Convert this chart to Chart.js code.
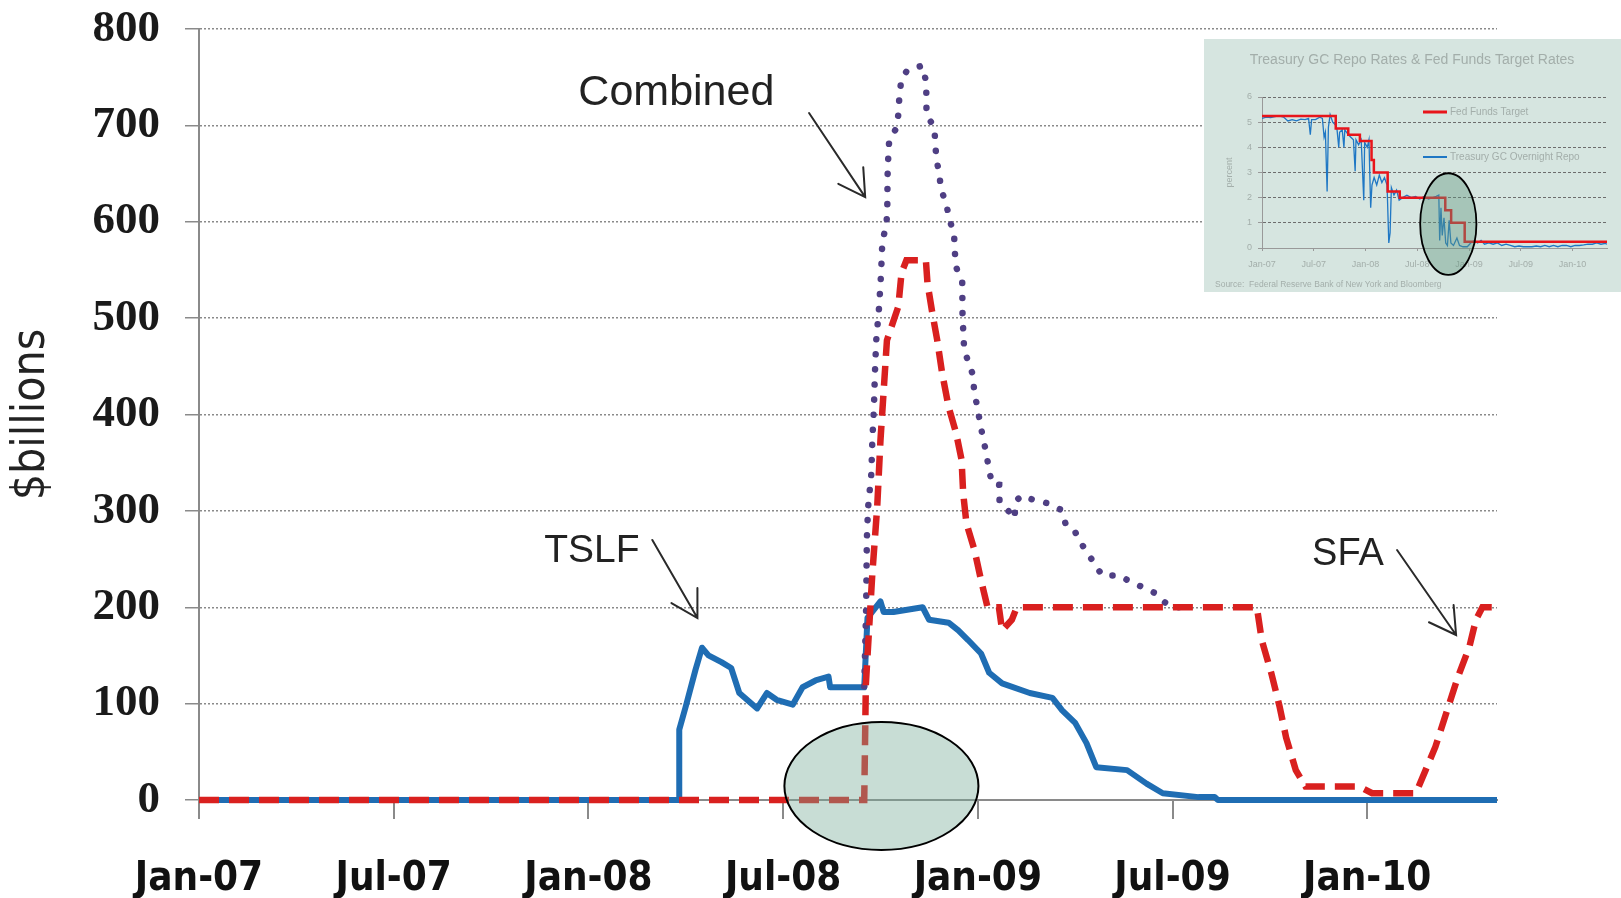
<!DOCTYPE html>
<html><head><meta charset="utf-8">
<script src="https://cdn.jsdelivr.net/npm/chart.js@4.4.0/dist/chart.umd.min.js"></script>
<style>
html,body{margin:0;padding:0;background:#fff;}
#wrap{position:relative;width:1621px;height:898px;overflow:hidden;}
#main{position:absolute;left:0;top:0;}
#inset{position:absolute;left:1204px;top:39px;width:417px;height:253px;background:#d6e5e0;}
#insetCanvas{position:absolute;left:0;top:0;}
</style></head><body>
<div id="wrap">
<canvas id="main" width="1621" height="898"></canvas>
<div id="inset"><canvas id="insetCanvas" width="417" height="253"></canvas></div>
</div>
<script>
// ---------- main chart data (x = months since Jan-2007) ----------
const xTickMonths = [0, 6, 12, 18, 24, 30, 36];
const xTickLabels = ['Jan-07', 'Jul-07', 'Jan-08', 'Jul-08', 'Jan-09', 'Jul-09', 'Jan-10'];
const yTickValues = [0, 100, 200, 300, 400, 500, 600, 700, 800];

const tslfMonths = [0, 14.8, 14.8, 15.0, 15.3, 15.5, 15.7, 16.1, 16.4, 16.65, 17.2, 17.5, 17.8, 18.3, 18.6, 19.0, 19.4, 19.45, 20.5, 20.6, 21.0, 21.1, 21.4, 22.3, 22.5, 23.1, 23.4, 23.7, 24.1, 24.35, 24.75, 25.6, 26.3, 26.6, 27.0, 27.35, 27.65, 28.6, 29.2, 29.7, 30.8, 31.3, 31.4, 40];
const tslfValues = [0, 0, 73, 97, 135, 158, 150, 143, 137, 111, 95, 111, 104, 99, 117, 124, 128, 117, 117, 189, 206, 195, 195, 200, 187, 184, 176, 166, 152, 132, 121, 111, 106, 93, 80, 59, 34, 31, 17, 7, 3, 3, 0, 0];

const sfaMonths = [0, 20.5, 20.55, 20.75, 20.9, 21.0, 21.1, 21.2, 21.55, 21.65, 21.8, 22.4, 22.45, 22.6, 22.75, 22.9, 23.1, 23.33, 23.5, 23.55, 23.65, 23.9, 24.1, 24.3, 24.65, 24.75, 25.05, 25.2, 32.6, 32.75, 33.05, 33.3, 33.5, 33.8, 34.1, 35.75, 36.15, 37.5, 37.8, 38.1, 38.5, 38.8, 39.15, 39.35, 39.55, 40];
const sfaValues = [0, 0, 120, 235, 304, 373, 425, 477, 512, 547, 560, 560, 536, 505, 477, 443, 408, 381, 353, 318, 287, 259, 228, 200, 200, 176, 187, 200, 200, 166, 131, 97, 65, 31, 14, 14, 7, 7, 31, 55, 97, 128, 159, 187, 200, 200];

const combinedMonths = [20.5, 20.56, 20.58, 20.62, 20.72, 20.75, 20.8, 20.83, 20.87, 20.96, 21.02, 21.06, 21.18, 21.21, 21.22, 21.24, 21.27, 21.49, 21.55, 21.58, 21.64, 21.82, 22.29, 22.41, 22.42, 22.66, 22.72, 22.81, 22.87, 23.03, 23.12, 23.27, 23.28, 23.33, 23.52, 23.53, 23.58, 23.83, 23.89, 23.98, 24.13, 24.26, 24.35, 24.44, 24.66, 24.67, 24.97, 25.12, 25.19, 25.37, 25.74, 26.14, 26.57, 26.72, 26.97, 27.19, 27.43, 27.65, 27.84, 28.36, 28.73, 29.07, 29.44, 29.68, 29.99, 30.3];
const combinedValues = [118, 200, 270, 304, 339, 373, 408, 443, 477, 512, 547, 581, 595, 612, 648, 666, 685, 697, 711, 728, 747, 757, 762, 745, 711, 698, 666, 650, 633, 619, 602, 589, 574, 553, 538, 502, 467, 443, 425, 408, 381, 360, 342, 328, 327, 309, 299, 292, 311, 316, 311, 308, 301, 285, 280, 266, 254, 242, 233, 233, 226, 221, 215, 207, 200, 200];

// annotations (anchored in data units)
const noteTexts = ['Combined', 'TSLF', 'SFA'];
const noteSizes = [43, 39, 38];
const noteX = [11.69, 10.64, 34.3];
const noteY = [721.5, 247, 244];
const arrowFromX = [18.80, 13.97, 36.92];
const arrowFromY = [712.8, 269.8, 259.4];
const arrowToX = [20.53, 15.36, 38.74];
const arrowToY = [625.6, 188.8, 171.2];
const ellipseCenter = [21.03, 14.5];
const ellipseRadii = [2.99, 66.4];

// ---------- inset chart data ----------
const insetTitle = 'Treasury GC Repo Rates & Fed Funds Target Rates';
const insetSource = 'Source:  Federal Reserve Bank of New York and Bloomberg';
const insetYTicks = [0, 1, 2, 3, 4, 5, 6];
const fedMonths = [0, 8.55, 8.55, 10.0, 10.0, 11.35, 11.35, 12.7, 12.7, 12.97, 12.97, 14.57, 14.57, 15.97, 15.97, 21.25, 21.25, 21.93, 21.93, 23.5, 23.5, 40];
const fedValues = [5.25, 5.25, 4.75, 4.75, 4.5, 4.5, 4.25, 4.25, 3.5, 3.5, 3.0, 3.0, 2.25, 2.25, 2.0, 2.0, 1.5, 1.5, 1.0, 1.0, 0.25, 0.25];
const repoMonths = [0, 0.5, 1, 1.5, 2, 2.5, 3, 3.5, 4, 4.5, 5, 5.4, 5.6, 5.75, 6.2, 6.7, 7.0, 7.2, 7.35, 7.55, 7.7, 7.9, 8.2, 8.5, 8.7, 8.9, 9.0, 9.3, 9.5, 9.6, 10.0, 10.3, 10.6, 10.8, 10.9, 11.2, 11.5, 11.8, 11.9, 12.2, 12.4, 12.6, 12.75, 13.0, 13.3, 13.6, 13.9, 14.2, 14.5, 14.7, 14.85, 15.0, 15.3, 15.6, 15.9, 16.3, 16.8, 17.3, 17.8, 18.3, 18.8, 19.3, 19.8, 20.2, 20.5, 20.6, 20.75, 20.9, 21.1, 21.3, 21.5, 21.7, 21.9, 22.2, 22.6, 22.9, 23.3, 23.8, 24.2, 24.6, 25.0, 25.4, 25.8, 26.3, 26.8, 27.3, 27.8, 28.3, 28.8, 29.3, 29.8, 30.3, 30.8, 31.3, 31.8, 32.3, 32.8, 33.3, 33.8, 34.3, 34.8, 35.3, 35.8, 36.3, 36.8, 37.3, 37.8, 38.3, 38.8, 39.3, 39.8, 40];
const repoValues = [5.15, 5.2, 5.18, 5.22, 5.25, 5.2, 5.05, 5.1, 5.05, 5.12, 5.1, 5.15, 4.5, 5.1, 5.1, 5.2, 5.15, 4.4, 4.6, 2.25, 4.8, 5.3, 5.0, 4.9, 4.7, 4.0, 4.6, 4.7, 4.0, 4.7, 4.5, 4.4, 4.3, 3.05, 4.3, 4.1, 4.3, 1.9, 4.2, 4.0, 4.3, 1.6, 2.5, 2.8, 2.5, 2.9, 2.6, 2.8, 2.5, 0.2, 0.6, 2.4, 2.1, 2.3, 1.9, 2.0, 2.1, 2.0, 2.05, 1.95, 2.05, 1.95, 2.0, 2.05, 2.1, 0.3, 1.6, 0.5, 1.2, 0.2, 0.1, 1.1, 0.2, 0.1, 0.4, 0.1, 0.05, 0.05, 0.2, 0.3, 0.2, 0.3, 0.15, 0.2, 0.15, 0.2, 0.1, 0.15, 0.1, 0.05, 0.08, 0.05, 0.05, 0.05, 0.08, 0.05, 0.1, 0.05, 0.1, 0.05, 0.1, 0.1, 0.05, 0.1, 0.1, 0.12, 0.15, 0.15, 0.2, 0.15, 0.18, 0.15];
const insetLegend = ['Fed Funds Target', 'Treasury GC Overnight Repo'];
const insetEllipseCenter = [21.6, 0.95];
const insetEllipseRadii = [3.26, 2.02];

const pts = (xs, ys) => xs.map((x, i) => ({x: x, y: ys[i]}));

// ---------- main chart ----------
const annoPlugin = {
  id: 'anno',
  afterDatasetsDraw(chart) {
    const {ctx, scales: {x, y}} = chart;
    ctx.save();
    const cx = x.getPixelForValue(ellipseCenter[0]);
    const cy = y.getPixelForValue(ellipseCenter[1]);
    const rx = x.getPixelForValue(ellipseCenter[0] + ellipseRadii[0]) - cx;
    const ry = cy - y.getPixelForValue(ellipseCenter[1] + ellipseRadii[1]);
    ctx.beginPath();
    ctx.ellipse(cx, cy, rx, ry, 0, 0, Math.PI * 2);
    ctx.fillStyle = 'rgba(117,170,150,0.40)';
    ctx.fill();
    ctx.lineWidth = 2;
    ctx.strokeStyle = '#000';
    ctx.stroke();
    ctx.fillStyle = '#222';
    ctx.textBaseline = 'alphabetic';
    ctx.textAlign = 'left';
    noteTexts.forEach((t, i) => {
      ctx.font = noteSizes[i] + 'px "Liberation Sans", Arial, sans-serif';
      ctx.fillText(t, x.getPixelForValue(noteX[i]), y.getPixelForValue(noteY[i]));
    });
    ctx.strokeStyle = '#2a2a2a';
    ctx.lineWidth = 2;
    ctx.lineCap = 'round';
    for (let i = 0; i < arrowFromX.length; i++) {
      const x1 = x.getPixelForValue(arrowFromX[i]), y1 = y.getPixelForValue(arrowFromY[i]);
      const x2 = x.getPixelForValue(arrowToX[i]), y2 = y.getPixelForValue(arrowToY[i]);
      const a = Math.atan2(y1 - y2, x1 - x2);
      const L = 30, w = Math.PI / 6;
      ctx.beginPath();
      ctx.moveTo(x1, y1); ctx.lineTo(x2, y2);
      ctx.moveTo(x2 + L * Math.cos(a - w), y2 + L * Math.sin(a - w));
      ctx.lineTo(x2, y2);
      ctx.lineTo(x2 + L * Math.cos(a + w), y2 + L * Math.sin(a + w));
      ctx.stroke();
    }
    ctx.restore();
  }
};

new Chart(document.getElementById('main'), {
  type: 'line',
  data: {
    datasets: [
      {label: 'SFA', data: pts(sfaMonths, sfaValues), borderColor: '#d9201f', borderWidth: 6.5, borderDash: [20, 10], borderCapStyle: 'butt', pointRadius: 0, tension: 0, fill: false, clip: false},
      {label: 'Combined', data: pts(combinedMonths, combinedValues), borderColor: '#4f3f84', borderWidth: 6.5, borderDash: [0.1, 15], borderCapStyle: 'round', pointRadius: 0, tension: 0, fill: false, clip: false},
      {label: 'TSLF', data: pts(tslfMonths, tslfValues), borderColor: '#1f6db3', borderWidth: 6, borderJoinStyle: 'round', pointRadius: 0, tension: 0, fill: false, clip: false}
    ]
  },
  options: {
    responsive: false,
    animation: false,
    events: [],
    layout: {padding: {left: 0, top: 29, right: 124, bottom: 0}},
    plugins: {legend: {display: false}, tooltip: {enabled: false}},
    scales: {
      x: {
        type: 'linear', min: 0, max: 40,
        afterBuildTicks: s => { s.ticks = xTickMonths.map(v => ({value: v})); },
        afterFit: s => { s.height = 98; s.paddingLeft = 0; s.paddingRight = 0; },
        ticks: {
          autoSkip: false, maxRotation: 0,
          callback: v => xTickLabels[xTickMonths.indexOf(v)],
          font: {family: '"Liberation Sans Narrow", "DejaVu Sans Condensed", "Liberation Sans", sans-serif', size: 40, weight: 'bold'},
          color: '#111', padding: 37
        },
        grid: {drawOnChartArea: false, drawTicks: true, tickLength: 19, color: '#8a8a8a', lineWidth: 2},
        border: {display: true, color: '#8a8a8a', width: 2}
      },
      y: {
        min: 0, max: 800,
        afterBuildTicks: s => { s.ticks = yTickValues.map(v => ({value: v})); },
        afterFit: s => { s.width = 199; s.paddingTop = 0; s.paddingBottom = 0; },
        ticks: {
          callback: v => String(v),
          font: {family: '"Liberation Serif", "DejaVu Serif", serif', size: 45, weight: 'bold'},
          color: '#1a1a1a', padding: 25
        },
        grid: {drawOnChartArea: true, drawTicks: true, tickLength: 14, color: '#8a8a8a', lineWidth: 1.5, tickBorderDash: [], tickWidth: 1.5, tickColor: '#8a8a8a'},
        border: {display: true, color: '#8a8a8a', width: 2, dash: [2, 2]},
        title: {
          display: true, text: '$billions',
          font: {family: '"Liberation Sans Narrow", "DejaVu Sans Condensed", sans-serif', size: 46},
          color: '#222', padding: {top: 4, bottom: 0}
        }
      }
    }
  },
  plugins: [annoPlugin]
});

// ---------- inset chart ----------
const insetPlugin = {
  id: 'insetDeco',
  afterDatasetsDraw(chart) {
    const {ctx, scales: {x, y}} = chart;
    ctx.save();
    const cx = x.getPixelForValue(insetEllipseCenter[0]);
    const cy = y.getPixelForValue(insetEllipseCenter[1]);
    const rx = x.getPixelForValue(insetEllipseCenter[0] + insetEllipseRadii[0]) - cx;
    const ry = cy - y.getPixelForValue(insetEllipseCenter[1] + insetEllipseRadii[1]);
    ctx.beginPath();
    ctx.ellipse(cx, cy, rx, ry, 0, 0, Math.PI * 2);
    ctx.fillStyle = 'rgba(95,150,125,0.40)';
    ctx.fill();
    ctx.lineWidth = 1.8;
    ctx.strokeStyle = '#000';
    ctx.stroke();
    ctx.fillStyle = '#a3aeaa';
    ctx.font = '14px "Liberation Sans", Arial, sans-serif';
    ctx.textAlign = 'center';
    ctx.textBaseline = 'alphabetic';
    ctx.fillText(insetTitle, 208, 25);
    ctx.textAlign = 'left';
    ctx.textBaseline = 'middle';
    ctx.font = '10px "Liberation Sans", Arial, sans-serif';
    const legColors = ['#e8151b', '#1f77c4'];
    const legY = [73, 118];
    insetLegend.forEach((t, i) => {
      ctx.strokeStyle = legColors[i];
      ctx.lineWidth = i === 0 ? 3 : 2;
      ctx.beginPath(); ctx.moveTo(219, legY[i]); ctx.lineTo(243, legY[i]); ctx.stroke();
      ctx.fillStyle = '#a3aeaa';
      ctx.fillText(t, 246, legY[i]);
    });
    ctx.font = '8.5px "Liberation Sans", Arial, sans-serif';
    ctx.fillText(insetSource, 11, 246);
    ctx.restore();
  }
};

new Chart(document.getElementById('insetCanvas'), {
  type: 'line',
  data: {
    datasets: [
      {label: insetLegend[0], data: pts(fedMonths, fedValues), borderColor: '#e8151b', borderWidth: 2.5, pointRadius: 0, tension: 0},
      {label: insetLegend[1], data: pts(repoMonths, repoValues), borderColor: '#1f77c4', borderWidth: 1.3, pointRadius: 0, tension: 0}
    ]
  },
  options: {
    responsive: false,
    animation: false,
    events: [],
    layout: {padding: {left: 0, top: 58, right: 14, bottom: 0}},
    plugins: {legend: {display: false}, tooltip: {enabled: false}},
    scales: {
      x: {
        type: 'linear', min: 0, max: 40,
        afterBuildTicks: s => { s.ticks = xTickMonths.map(v => ({value: v})); },
        afterFit: s => { s.height = 44; },
        ticks: {autoSkip: false, maxRotation: 0, callback: v => xTickLabels[xTickMonths.indexOf(v)], font: {family: '"Liberation Sans", Arial, sans-serif', size: 9}, color: '#a3aeaa', padding: 8},
        grid: {drawOnChartArea: false, tickLength: 3, color: '#999'},
        border: {color: '#999', width: 1}
      },
      y: {
        min: 0, max: 6,
        afterBuildTicks: s => { s.ticks = insetYTicks.map(v => ({value: v})); },
        afterFit: s => { s.width = 58; s.paddingTop = 0; s.paddingBottom = 0; },
        ticks: {callback: v => String(v), font: {family: '"Liberation Sans", Arial, sans-serif', size: 9}, color: '#a3aeaa', padding: 6},
        grid: {color: '#6d6d6d', lineWidth: 1, tickLength: 4, tickBorderDash: [], tickColor: '#999'},
        border: {color: '#999', width: 1, dash: [3, 2]},
        title: {display: true, text: 'percent', font: {family: '"Liberation Sans", Arial, sans-serif', size: 9}, color: '#a3aeaa', padding: {top: 20, bottom: 0}}
      }
    }
  },
  plugins: [insetPlugin]
});
</script>
</body></html>
